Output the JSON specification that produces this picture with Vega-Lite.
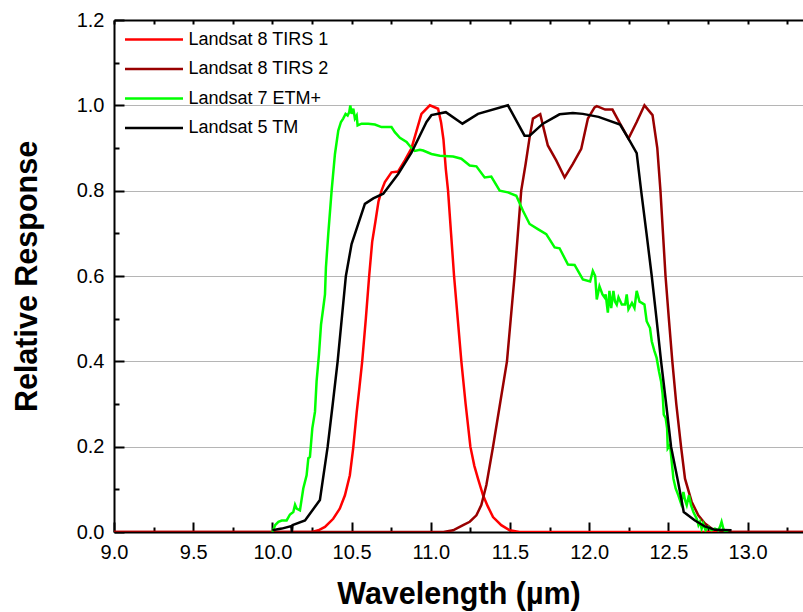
{
  "$schema": "https://vega.github.io/schema/vega-lite/v6.json",
  "width": 689,
  "height": 512,
  "autosize": {"type": "none"},
  "padding": {"left": 114, "top": 20, "right": 0, "bottom": 80},
  "background": "white",
  "config": {"view": {"stroke": null}, "font": "Liberation Sans"},
  "resolve": {"axis": {"x": "independent"}},
  "layer": [
    {
      "data": {"values": [
        {"s":"Landsat 8 TIRS 1","w":9.0,"r":0},{"s":"Landsat 8 TIRS 1","w":10.25,"r":0},{"s":"Landsat 8 TIRS 1","w":10.29,"r":0.004},{"s":"Landsat 8 TIRS 1","w":10.332,"r":0.012},{"s":"Landsat 8 TIRS 1","w":10.384,"r":0.031},{"s":"Landsat 8 TIRS 1","w":10.426,"r":0.055},{"s":"Landsat 8 TIRS 1","w":10.458,"r":0.086},{"s":"Landsat 8 TIRS 1","w":10.489,"r":0.133},{"s":"Landsat 8 TIRS 1","w":10.51,"r":0.196},{"s":"Landsat 8 TIRS 1","w":10.532,"r":0.28},{"s":"Landsat 8 TIRS 1","w":10.55,"r":0.34},{"s":"Landsat 8 TIRS 1","w":10.567,"r":0.4},{"s":"Landsat 8 TIRS 1","w":10.59,"r":0.5},{"s":"Landsat 8 TIRS 1","w":10.611,"r":0.6},{"s":"Landsat 8 TIRS 1","w":10.63,"r":0.68},{"s":"Landsat 8 TIRS 1","w":10.651,"r":0.729},{"s":"Landsat 8 TIRS 1","w":10.67,"r":0.775},{"s":"Landsat 8 TIRS 1","w":10.689,"r":0.8},{"s":"Landsat 8 TIRS 1","w":10.71,"r":0.82},{"s":"Landsat 8 TIRS 1","w":10.752,"r":0.843},{"s":"Landsat 8 TIRS 1","w":10.794,"r":0.845},{"s":"Landsat 8 TIRS 1","w":10.836,"r":0.871},{"s":"Landsat 8 TIRS 1","w":10.878,"r":0.899},{"s":"Landsat 8 TIRS 1","w":10.91,"r":0.94},{"s":"Landsat 8 TIRS 1","w":10.941,"r":0.98},{"s":"Landsat 8 TIRS 1","w":10.994,"r":1.0},{"s":"Landsat 8 TIRS 1","w":11.046,"r":0.992},{"s":"Landsat 8 TIRS 1","w":11.065,"r":0.96},{"s":"Landsat 8 TIRS 1","w":11.08,"r":0.92},{"s":"Landsat 8 TIRS 1","w":11.095,"r":0.85},{"s":"Landsat 8 TIRS 1","w":11.109,"r":0.8},{"s":"Landsat 8 TIRS 1","w":11.128,"r":0.7},{"s":"Landsat 8 TIRS 1","w":11.147,"r":0.6},{"s":"Landsat 8 TIRS 1","w":11.17,"r":0.5},{"s":"Landsat 8 TIRS 1","w":11.193,"r":0.4},{"s":"Landsat 8 TIRS 1","w":11.22,"r":0.3},{"s":"Landsat 8 TIRS 1","w":11.25,"r":0.2},{"s":"Landsat 8 TIRS 1","w":11.275,"r":0.155},{"s":"Landsat 8 TIRS 1","w":11.298,"r":0.125},{"s":"Landsat 8 TIRS 1","w":11.33,"r":0.086},{"s":"Landsat 8 TIRS 1","w":11.36,"r":0.06},{"s":"Landsat 8 TIRS 1","w":11.393,"r":0.035},{"s":"Landsat 8 TIRS 1","w":11.445,"r":0.016},{"s":"Landsat 8 TIRS 1","w":11.498,"r":0.004},{"s":"Landsat 8 TIRS 1","w":11.56,"r":0},{"s":"Landsat 8 TIRS 1","w":13.35,"r":0},

        {"s":"Landsat 8 TIRS 2","w":9.0,"r":0},{"s":"Landsat 8 TIRS 2","w":11.08,"r":0},{"s":"Landsat 8 TIRS 2","w":11.141,"r":0.004},{"s":"Landsat 8 TIRS 2","w":11.204,"r":0.016},{"s":"Landsat 8 TIRS 2","w":11.246,"r":0.024},{"s":"Landsat 8 TIRS 2","w":11.288,"r":0.039},{"s":"Landsat 8 TIRS 2","w":11.319,"r":0.063},{"s":"Landsat 8 TIRS 2","w":11.351,"r":0.11},{"s":"Landsat 8 TIRS 2","w":11.393,"r":0.2},{"s":"Landsat 8 TIRS 2","w":11.437,"r":0.3},{"s":"Landsat 8 TIRS 2","w":11.481,"r":0.4},{"s":"Landsat 8 TIRS 2","w":11.505,"r":0.5},{"s":"Landsat 8 TIRS 2","w":11.529,"r":0.6},{"s":"Landsat 8 TIRS 2","w":11.55,"r":0.7},{"s":"Landsat 8 TIRS 2","w":11.571,"r":0.8},{"s":"Landsat 8 TIRS 2","w":11.599,"r":0.863},{"s":"Landsat 8 TIRS 2","w":11.624,"r":0.925},{"s":"Landsat 8 TIRS 2","w":11.645,"r":0.969},{"s":"Landsat 8 TIRS 2","w":11.691,"r":0.979},{"s":"Landsat 8 TIRS 2","w":11.708,"r":0.953},{"s":"Landsat 8 TIRS 2","w":11.739,"r":0.906},{"s":"Landsat 8 TIRS 2","w":11.792,"r":0.871},{"s":"Landsat 8 TIRS 2","w":11.845,"r":0.831},{"s":"Landsat 8 TIRS 2","w":11.897,"r":0.863},{"s":"Landsat 8 TIRS 2","w":11.95,"r":0.898},{"s":"Landsat 8 TIRS 2","w":11.992,"r":0.969},{"s":"Landsat 8 TIRS 2","w":12.034,"r":0.995},{"s":"Landsat 8 TIRS 2","w":12.048,"r":0.998},{"s":"Landsat 8 TIRS 2","w":12.101,"r":0.99},{"s":"Landsat 8 TIRS 2","w":12.147,"r":0.99},{"s":"Landsat 8 TIRS 2","w":12.195,"r":0.957},{"s":"Landsat 8 TIRS 2","w":12.248,"r":0.922},{"s":"Landsat 8 TIRS 2","w":12.3,"r":0.961},{"s":"Landsat 8 TIRS 2","w":12.349,"r":1.0},{"s":"Landsat 8 TIRS 2","w":12.4,"r":0.977},{"s":"Landsat 8 TIRS 2","w":12.43,"r":0.9},{"s":"Landsat 8 TIRS 2","w":12.45,"r":0.8},{"s":"Landsat 8 TIRS 2","w":12.466,"r":0.7},{"s":"Landsat 8 TIRS 2","w":12.482,"r":0.6},{"s":"Landsat 8 TIRS 2","w":12.503,"r":0.5},{"s":"Landsat 8 TIRS 2","w":12.525,"r":0.4},{"s":"Landsat 8 TIRS 2","w":12.55,"r":0.3},{"s":"Landsat 8 TIRS 2","w":12.58,"r":0.2},{"s":"Landsat 8 TIRS 2","w":12.605,"r":0.125},{"s":"Landsat 8 TIRS 2","w":12.647,"r":0.071},{"s":"Landsat 8 TIRS 2","w":12.689,"r":0.039},{"s":"Landsat 8 TIRS 2","w":12.731,"r":0.02},{"s":"Landsat 8 TIRS 2","w":12.773,"r":0.008},{"s":"Landsat 8 TIRS 2","w":12.836,"r":0.002},{"s":"Landsat 8 TIRS 2","w":12.9,"r":0},{"s":"Landsat 8 TIRS 2","w":13.35,"r":0},

        {"s":"Landsat 7 ETM+","w":10.0,"r":0},{"s":"Landsat 7 ETM+","w":10.017,"r":0.016},{"s":"Landsat 7 ETM+","w":10.038,"r":0.024},{"s":"Landsat 7 ETM+","w":10.059,"r":0.027},{"s":"Landsat 7 ETM+","w":10.09,"r":0.027},{"s":"Landsat 7 ETM+","w":10.111,"r":0.041},{"s":"Landsat 7 ETM+","w":10.132,"r":0.047},{"s":"Landsat 7 ETM+","w":10.143,"r":0.064},{"s":"Landsat 7 ETM+","w":10.153,"r":0.055},{"s":"Landsat 7 ETM+","w":10.174,"r":0.051},{"s":"Landsat 7 ETM+","w":10.195,"r":0.102},{"s":"Landsat 7 ETM+","w":10.216,"r":0.133},{"s":"Landsat 7 ETM+","w":10.227,"r":0.173},{"s":"Landsat 7 ETM+","w":10.237,"r":0.176},{"s":"Landsat 7 ETM+","w":10.252,"r":0.243},{"s":"Landsat 7 ETM+","w":10.269,"r":0.282},{"s":"Landsat 7 ETM+","w":10.279,"r":0.353},{"s":"Landsat 7 ETM+","w":10.294,"r":0.416},{"s":"Landsat 7 ETM+","w":10.307,"r":0.486},{"s":"Landsat 7 ETM+","w":10.321,"r":0.525},{"s":"Landsat 7 ETM+","w":10.332,"r":0.557},{"s":"Landsat 7 ETM+","w":10.338,"r":0.62},{"s":"Landsat 7 ETM+","w":10.353,"r":0.7},{"s":"Landsat 7 ETM+","w":10.374,"r":0.8},{"s":"Landsat 7 ETM+","w":10.395,"r":0.886},{"s":"Landsat 7 ETM+","w":10.416,"r":0.941},{"s":"Landsat 7 ETM+","w":10.433,"r":0.961},{"s":"Landsat 7 ETM+","w":10.447,"r":0.969},{"s":"Landsat 7 ETM+","w":10.462,"r":0.98},{"s":"Landsat 7 ETM+","w":10.475,"r":0.976},{"s":"Landsat 7 ETM+","w":10.485,"r":0.984},{"s":"Landsat 7 ETM+","w":10.492,"r":1.0},{"s":"Landsat 7 ETM+","w":10.5,"r":0.98},{"s":"Landsat 7 ETM+","w":10.511,"r":0.992},{"s":"Landsat 7 ETM+","w":10.521,"r":0.969},{"s":"Landsat 7 ETM+","w":10.532,"r":0.976},{"s":"Landsat 7 ETM+","w":10.538,"r":0.953},{"s":"Landsat 7 ETM+","w":10.563,"r":0.957},{"s":"Landsat 7 ETM+","w":10.605,"r":0.957},{"s":"Landsat 7 ETM+","w":10.647,"r":0.955},{"s":"Landsat 7 ETM+","w":10.689,"r":0.949},{"s":"Landsat 7 ETM+","w":10.752,"r":0.949},{"s":"Landsat 7 ETM+","w":10.773,"r":0.937},{"s":"Landsat 7 ETM+","w":10.805,"r":0.924},{"s":"Landsat 7 ETM+","w":10.847,"r":0.914},{"s":"Landsat 7 ETM+","w":10.878,"r":0.9},{"s":"Landsat 7 ETM+","w":10.899,"r":0.893},{"s":"Landsat 7 ETM+","w":10.931,"r":0.896},{"s":"Landsat 7 ETM+","w":10.952,"r":0.894},{"s":"Landsat 7 ETM+","w":11.004,"r":0.886},{"s":"Landsat 7 ETM+","w":11.057,"r":0.882},{"s":"Landsat 7 ETM+","w":11.141,"r":0.88},{"s":"Landsat 7 ETM+","w":11.193,"r":0.875},{"s":"Landsat 7 ETM+","w":11.246,"r":0.859},{"s":"Landsat 7 ETM+","w":11.288,"r":0.857},{"s":"Landsat 7 ETM+","w":11.34,"r":0.831},{"s":"Landsat 7 ETM+","w":11.382,"r":0.833},{"s":"Landsat 7 ETM+","w":11.435,"r":0.8},{"s":"Landsat 7 ETM+","w":11.487,"r":0.796},{"s":"Landsat 7 ETM+","w":11.54,"r":0.788},{"s":"Landsat 7 ETM+","w":11.582,"r":0.753},{"s":"Landsat 7 ETM+","w":11.624,"r":0.722},{"s":"Landsat 7 ETM+","w":11.676,"r":0.71},{"s":"Landsat 7 ETM+","w":11.729,"r":0.698},{"s":"Landsat 7 ETM+","w":11.782,"r":0.667},{"s":"Landsat 7 ETM+","w":11.813,"r":0.665},{"s":"Landsat 7 ETM+","w":11.866,"r":0.627},{"s":"Landsat 7 ETM+","w":11.908,"r":0.626},{"s":"Landsat 7 ETM+","w":11.96,"r":0.592},{"s":"Landsat 7 ETM+","w":12.006,"r":0.587},{"s":"Landsat 7 ETM+","w":12.023,"r":0.612},{"s":"Landsat 7 ETM+","w":12.038,"r":0.6},{"s":"Landsat 7 ETM+","w":12.048,"r":0.545},{"s":"Landsat 7 ETM+","w":12.065,"r":0.576},{"s":"Landsat 7 ETM+","w":12.084,"r":0.557},{"s":"Landsat 7 ETM+","w":12.097,"r":0.55},{"s":"Landsat 7 ETM+","w":12.104,"r":0.557},{"s":"Landsat 7 ETM+","w":12.118,"r":0.514},{"s":"Landsat 7 ETM+","w":12.128,"r":0.565},{"s":"Landsat 7 ETM+","w":12.139,"r":0.525},{"s":"Landsat 7 ETM+","w":12.153,"r":0.565},{"s":"Landsat 7 ETM+","w":12.163,"r":0.54},{"s":"Landsat 7 ETM+","w":12.174,"r":0.533},{"s":"Landsat 7 ETM+","w":12.185,"r":0.55},{"s":"Landsat 7 ETM+","w":12.206,"r":0.533},{"s":"Landsat 7 ETM+","w":12.227,"r":0.533},{"s":"Landsat 7 ETM+","w":12.237,"r":0.557},{"s":"Landsat 7 ETM+","w":12.248,"r":0.522},{"s":"Landsat 7 ETM+","w":12.27,"r":0.537},{"s":"Landsat 7 ETM+","w":12.286,"r":0.525},{"s":"Landsat 7 ETM+","w":12.3,"r":0.565},{"s":"Landsat 7 ETM+","w":12.318,"r":0.54},{"s":"Landsat 7 ETM+","w":12.332,"r":0.537},{"s":"Landsat 7 ETM+","w":12.349,"r":0.533},{"s":"Landsat 7 ETM+","w":12.363,"r":0.494},{"s":"Landsat 7 ETM+","w":12.384,"r":0.478},{"s":"Landsat 7 ETM+","w":12.395,"r":0.447},{"s":"Landsat 7 ETM+","w":12.412,"r":0.424},{"s":"Landsat 7 ETM+","w":12.426,"r":0.408},{"s":"Landsat 7 ETM+","w":12.441,"r":0.376},{"s":"Landsat 7 ETM+","w":12.454,"r":0.353},{"s":"Landsat 7 ETM+","w":12.464,"r":0.322},{"s":"Landsat 7 ETM+","w":12.471,"r":0.275},{"s":"Landsat 7 ETM+","w":12.483,"r":0.267},{"s":"Landsat 7 ETM+","w":12.492,"r":0.243},{"s":"Landsat 7 ETM+","w":12.496,"r":0.196},{"s":"Landsat 7 ETM+","w":12.511,"r":0.204},{"s":"Landsat 7 ETM+","w":12.521,"r":0.165},{"s":"Landsat 7 ETM+","w":12.532,"r":0.125},{"s":"Landsat 7 ETM+","w":12.546,"r":0.102},{"s":"Landsat 7 ETM+","w":12.563,"r":0.086},{"s":"Landsat 7 ETM+","w":12.58,"r":0.067},{"s":"Landsat 7 ETM+","w":12.595,"r":0.094},{"s":"Landsat 7 ETM+","w":12.605,"r":0.075},{"s":"Landsat 7 ETM+","w":12.616,"r":0.063},{"s":"Landsat 7 ETM+","w":12.63,"r":0.086},{"s":"Landsat 7 ETM+","w":12.643,"r":0.063},{"s":"Landsat 7 ETM+","w":12.658,"r":0.047},{"s":"Landsat 7 ETM+","w":12.679,"r":0.031},{"s":"Landsat 7 ETM+","w":12.69,"r":0.016},{"s":"Landsat 7 ETM+","w":12.7,"r":0.024},{"s":"Landsat 7 ETM+","w":12.71,"r":0.008},{"s":"Landsat 7 ETM+","w":12.72,"r":0.02},{"s":"Landsat 7 ETM+","w":12.735,"r":0.004},{"s":"Landsat 7 ETM+","w":12.752,"r":0.012},{"s":"Landsat 7 ETM+","w":12.773,"r":0.004},{"s":"Landsat 7 ETM+","w":12.794,"r":0.008},{"s":"Landsat 7 ETM+","w":12.815,"r":0.004},{"s":"Landsat 7 ETM+","w":12.826,"r":0.012},{"s":"Landsat 7 ETM+","w":12.836,"r":0.024},{"s":"Landsat 7 ETM+","w":12.847,"r":0.008},{"s":"Landsat 7 ETM+","w":12.857,"r":0.002},{"s":"Landsat 7 ETM+","w":12.878,"r":0},

        {"s":"Landsat 5 TM","w":10.0,"r":0.004},{"s":"Landsat 5 TM","w":10.059,"r":0.008},{"s":"Landsat 5 TM","w":10.12,"r":0.014},{"s":"Landsat 5 TM","w":10.123,"r":0.0},{"s":"Landsat 5 TM","w":10.127,"r":0.016},{"s":"Landsat 5 TM","w":10.206,"r":0.027},{"s":"Landsat 5 TM","w":10.3,"r":0.075},{"s":"Landsat 5 TM","w":10.349,"r":0.2},{"s":"Landsat 5 TM","w":10.381,"r":0.3},{"s":"Landsat 5 TM","w":10.412,"r":0.4},{"s":"Landsat 5 TM","w":10.438,"r":0.5},{"s":"Landsat 5 TM","w":10.464,"r":0.6},{"s":"Landsat 5 TM","w":10.5,"r":0.675},{"s":"Landsat 5 TM","w":10.542,"r":0.722},{"s":"Landsat 5 TM","w":10.584,"r":0.769},{"s":"Landsat 5 TM","w":10.637,"r":0.782},{"s":"Landsat 5 TM","w":10.7,"r":0.793},{"s":"Landsat 5 TM","w":10.794,"r":0.839},{"s":"Landsat 5 TM","w":10.878,"r":0.889},{"s":"Landsat 5 TM","w":10.973,"r":0.961},{"s":"Landsat 5 TM","w":11.004,"r":0.977},{"s":"Landsat 5 TM","w":11.095,"r":0.984},{"s":"Landsat 5 TM","w":11.2,"r":0.957},{"s":"Landsat 5 TM","w":11.298,"r":0.98},{"s":"Landsat 5 TM","w":11.487,"r":1.0},{"s":"Landsat 5 TM","w":11.592,"r":0.929},{"s":"Landsat 5 TM","w":11.624,"r":0.929},{"s":"Landsat 5 TM","w":11.708,"r":0.957},{"s":"Landsat 5 TM","w":11.813,"r":0.979},{"s":"Landsat 5 TM","w":11.897,"r":0.982},{"s":"Landsat 5 TM","w":11.96,"r":0.98},{"s":"Landsat 5 TM","w":12.059,"r":0.973},{"s":"Landsat 5 TM","w":12.195,"r":0.955},{"s":"Landsat 5 TM","w":12.248,"r":0.922},{"s":"Landsat 5 TM","w":12.3,"r":0.888},{"s":"Landsat 5 TM","w":12.328,"r":0.8},{"s":"Landsat 5 TM","w":12.362,"r":0.7},{"s":"Landsat 5 TM","w":12.395,"r":0.6},{"s":"Landsat 5 TM","w":12.425,"r":0.5},{"s":"Landsat 5 TM","w":12.454,"r":0.4},{"s":"Landsat 5 TM","w":12.486,"r":0.3},{"s":"Landsat 5 TM","w":12.517,"r":0.2},{"s":"Landsat 5 TM","w":12.56,"r":0.12},{"s":"Landsat 5 TM","w":12.597,"r":0.047},{"s":"Landsat 5 TM","w":12.668,"r":0.027},{"s":"Landsat 5 TM","w":12.731,"r":0.013},{"s":"Landsat 5 TM","w":12.794,"r":0.005},{"s":"Landsat 5 TM","w":12.899,"r":0.004}
      ]},
      "mark": {"type": "line", "strokeWidth": 2.5, "clip": true},
      "encoding": {
        "x": {
          "field": "w", "type": "quantitative",
          "scale": {"domain": [9, 13.35], "nice": false, "zero": false},
          "axis": {
            "orient": "bottom",
            "title": "Wavelength (µm)",
            "titleFont": "Liberation Sans", "titleFontSize": 30.5, "titleFontWeight": "bold", "titleColor": "black", "titlePadding": 12,
            "values": [9,9.25,9.5,9.75,10,10.25,10.5,10.75,11,11.25,11.5,11.75,12,12.25,12.5,12.75,13,13.25],
            "labelExpr": "datum.value % 0.5 == 0 ? format(datum.value, '.1f') : ''",
            "labelFont": "Liberation Sans", "labelFontSize": 20, "labelColor": "black", "labelPadding": 20,
            "labelFlush": false, "labelOverlap": false,
            "tickSize": {"condition": {"test": "datum.value % 0.5 == 0", "value": -10}, "value": -5},
            "tickColor": "black", "tickWidth": 2,
            "domainColor": "black", "domainWidth": 2,
            "grid": false
          }
        },
        "y": {
          "field": "r", "type": "quantitative",
          "scale": {"domain": [0, 1.2], "nice": false},
          "axis": {
            "title": "Relative Response",
            "titleFont": "Liberation Sans", "titleFontSize": 30.5, "titleFontWeight": "bold", "titleColor": "black", "titlePadding": 34,
            "values": [0,0.1,0.2,0.3,0.4,0.5,0.6,0.7,0.8,0.9,1,1.1,1.2],
            "labelExpr": "round(datum.value*10) % 2 == 0 ? format(datum.value, '.1f') : ''",
            "labelFont": "Liberation Sans", "labelFontSize": 20, "labelColor": "black", "labelPadding": 20,
            "labelFlush": false, "labelOverlap": false,
            "tickSize": {"condition": {"test": "round(datum.value*10) % 2 == 0", "value": -10}, "value": -5},
            "tickColor": "black", "tickWidth": 2,
            "domainColor": "black", "domainWidth": 2,
            "grid": true, "gridColor": "#b5b5b5", "gridWidth": 1,
            "gridOpacity": {"condition": {"test": "round(datum.value*10) % 2 == 0 && datum.value > 0.05 && datum.value < 1.15", "value": 1}, "value": 0}
          }
        },
        "color": {
          "field": "s", "type": "nominal",
          "scale": {
            "domain": ["Landsat 8 TIRS 1", "Landsat 8 TIRS 2", "Landsat 7 ETM+", "Landsat 5 TM"],
            "range": ["#ff0000", "#990000", "#00ff00", "#000000"]
          },
          "legend": {
            "orient": "none", "legendX": 9.5, "legendY": 9.5, "title": null,
            "symbolType": "stroke", "symbolSize": 3364, "symbolStrokeWidth": 2.5, "clipHeight": 20,
            "rowPadding": 9.5, "padding": 0, "labelOffset": 4,
            "labelFont": "Liberation Sans", "labelFontSize": 18, "labelColor": "black", "labelLimit": 400
          }
        }
      }
    },
    {
      "data": {"values": [{"w": 9}, {"w": 13.35}]},
      "mark": {"type": "rule", "opacity": 0},
      "encoding": {
        "x": {
          "field": "w", "type": "quantitative",
          "scale": {"domain": [9, 13.35], "nice": false, "zero": false},
          "axis": {
            "orient": "top", "title": null, "labels": false,
            "values": [9,9.25,9.5,9.75,10,10.25,10.5,10.75,11,11.25,11.5,11.75,12,12.25,12.5,12.75,13,13.25],
            "tickSize": -4, "tickColor": "black", "tickWidth": 2,
            "domainColor": "black", "domainWidth": 2, "grid": false
          }
        }
      }
    }
  ]
}
